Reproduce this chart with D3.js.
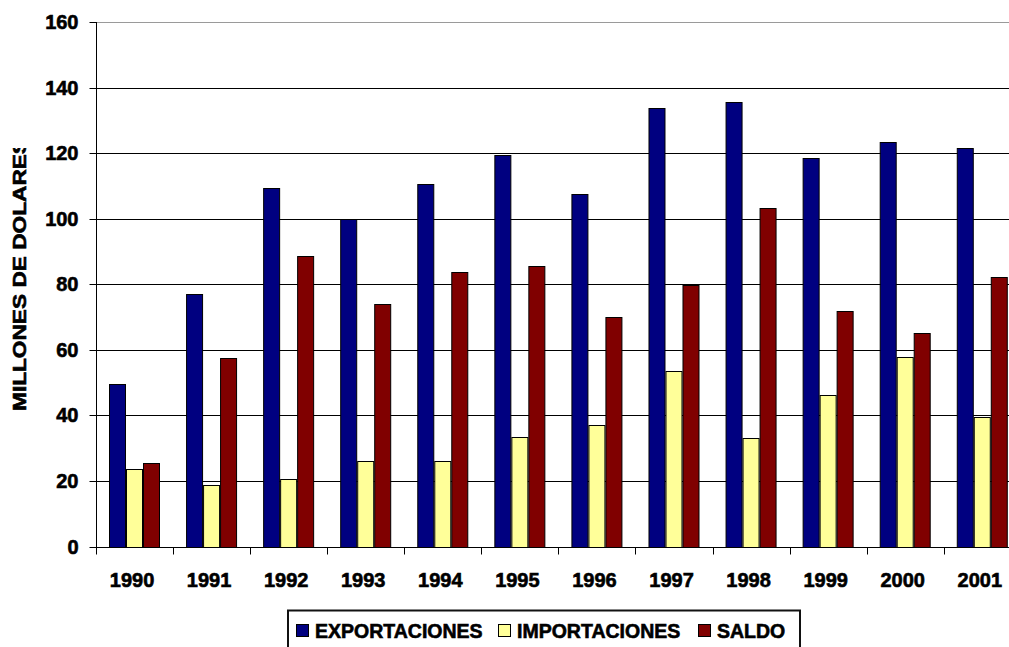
<!DOCTYPE html>
<html>
<head>
<meta charset="utf-8">
<script src="https://cdn.jsdelivr.net/npm/d3@7"></script>
<style>
  html, body { margin: 0; padding: 0; background: #fff; }
  svg { display: block; }
  text { font-family: "Liberation Sans", Arial, sans-serif; font-weight: bold; fill: #000; stroke: #000; stroke-width: 0.6px; }
</style>
</head>
<body>
<svg id="chart" width="1009" height="647"></svg>
<script>
// Trade balance, millions of dollars, 1990-2001
const years = ["1990","1991","1992","1993","1994","1995","1996","1997","1998","1999","2000","2001"];
const seriesNames = ["EXPORTACIONES", "IMPORTACIONES", "SALDO"];
const exportaciones = [49.5, 77.0, 109.3, 100.0, 110.5, 119.5, 107.4, 133.7, 135.5, 118.4, 123.3, 121.5];
const importaciones = [23.6, 18.8, 20.6, 26.1, 26.1, 33.5, 37.1, 53.6, 33.0, 46.2, 57.9, 39.6];
const saldo         = [25.6, 57.4, 88.6, 73.9, 83.6, 85.6, 70.1, 79.8, 103.2, 71.9, 65.2, 82.3];
const yTicks = [0, 20, 40, 60, 80, 100, 120, 140, 160];
const colors = ["#000080", "#FFFF99", "#800000"];

const seriesValues = [exportaciones, importaciones, saldo];

const svg = d3.select("#chart");
const W = 1009, H = 647;
svg.append("rect").attr("width", W).attr("height", H).attr("fill", "#fff");

const plotLeft = 96, plotTop = 22, plotBottom = 546.5;
const bandW = 77.07;

const x = d3.scaleBand()
  .domain(years)
  .range([plotLeft, plotLeft + bandW * years.length])
  .paddingInner(0).paddingOuter(0);

// gap width 150%: each bar takes bandwidth / 4.5
const barW = x.bandwidth() / 4.5;
const x1 = d3.scaleBand()
  .domain(seriesNames)
  .range([0.75 * barW, x.bandwidth() - 0.75 * barW])
  .padding(0);

const y = d3.scaleLinear().domain([0, 160]).range([plotBottom, plotTop]);

const crisp = v => Math.round(v) + 0.5;

// horizontal gridlines
svg.append("g").selectAll("line")
  .data(yTicks.filter(t => t > 0))
  .join("line")
  .attr("x1", plotLeft).attr("x2", W)
  .attr("y1", d => crisp(y(d))).attr("y2", d => crisp(y(d)))
  .attr("stroke", d => d === 160 ? "#9a9a9a" : "#000")
  .attr("stroke-width", 1);

// bars
const rows = years.map((yr, i) => ({ year: yr, vals: seriesNames.map((s, j) => ({ s, j, v: seriesValues[j][i] })) }));
const groups = svg.append("g").selectAll("g")
  .data(rows)
  .join("g")
  .attr("transform", d => `translate(${x(d.year)},0)`);

groups.selectAll("rect")
  .data(d => d.vals)
  .join("rect")
  .attr("x", d => Math.round(x1(d.s)) + 0.5)
  .attr("y", d => crisp(y(d.v)))
  .attr("width", Math.round(x1.bandwidth()) - 1)
  .attr("height", d => crisp(y(0)) - crisp(y(d.v)))
  .attr("fill", d => colors[d.j])
  .attr("stroke", "#000")
  .attr("stroke-width", 1);

// axes
const yAxis = d3.axisLeft(y).tickValues(yTicks).tickSize(7).tickPadding(11).tickFormat(d3.format("d"));
const gy = svg.append("g").attr("transform", `translate(${plotLeft + 0.5},0)`).call(yAxis);
gy.select(".domain").attr("stroke", "#000").attr("d", `M0,${plotTop}V${crisp(plotBottom)}`);
gy.selectAll(".tick line").attr("stroke", "#000");
gy.selectAll(".tick").attr("transform", d => `translate(0,${crisp(y(d))})`);
gy.selectAll(".tick text")
  .attr("font-size", 20)
  .attr("font-family", "\"Liberation Sans\", Arial, sans-serif")
  .attr("font-weight", "bold")
  .attr("fill", "#000");

const gx = svg.append("g").attr("transform", `translate(0,${crisp(plotBottom)})`);
gx.append("line")
  .attr("x1", plotLeft).attr("x2", W)
  .attr("y1", 0).attr("y2", 0)
  .attr("stroke", "#000");
gx.selectAll("line.tk")
  .data(d3.range(years.length + 1))
  .join("line").attr("class", "tk")
  .attr("x1", i => crisp(plotLeft + i * x.bandwidth()))
  .attr("x2", i => crisp(plotLeft + i * x.bandwidth()))
  .attr("y1", 0).attr("y2", 7)
  .attr("stroke", "#000");
gx.selectAll("text")
  .data(years)
  .join("text")
  .attr("x", d => x(d) + x.bandwidth() / 2 - 2.5)
  .attr("y", 39)
  .attr("text-anchor", "middle")
  .attr("font-size", 20)
  .text(d => d);

// y-axis title, its top end cut off by the chart area edge
svg.append("clipPath").attr("id", "titleClip")
  .append("rect").attr("x", 0).attr("y", 148).attr("width", 60).attr("height", 400);
svg.append("g")
  .attr("clip-path", "url(#titleClip)")
  .append("text")
  .attr("transform", "translate(26,411) rotate(-90)")
  .attr("x", 0).attr("y", 0)
  .attr("font-size", 18)
  .attr("textLength", 272)
  .attr("lengthAdjust", "spacingAndGlyphs")
  .text("MILLONES DE DOLARES");

// legend
const legend = svg.append("g");
legend.append("rect")
  .attr("x", 288).attr("y", 610.5)
  .attr("width", 512).attr("height", 60)
  .attr("fill", "#fff").attr("stroke", "#111").attr("stroke-width", 2);

const legendX = [296, 498, 698];
seriesNames.forEach((name, j) => {
  legend.append("rect")
    .attr("x", legendX[j] + 0.5).attr("y", 624.5)
    .attr("width", 12).attr("height", 12)
    .attr("fill", colors[j]).attr("stroke", "#000");
  legend.append("text")
    .attr("x", legendX[j] + 19).attr("y", 637.5)
    .attr("font-size", 19.5)
    .text(name);
});
</script>
</body>
</html>
